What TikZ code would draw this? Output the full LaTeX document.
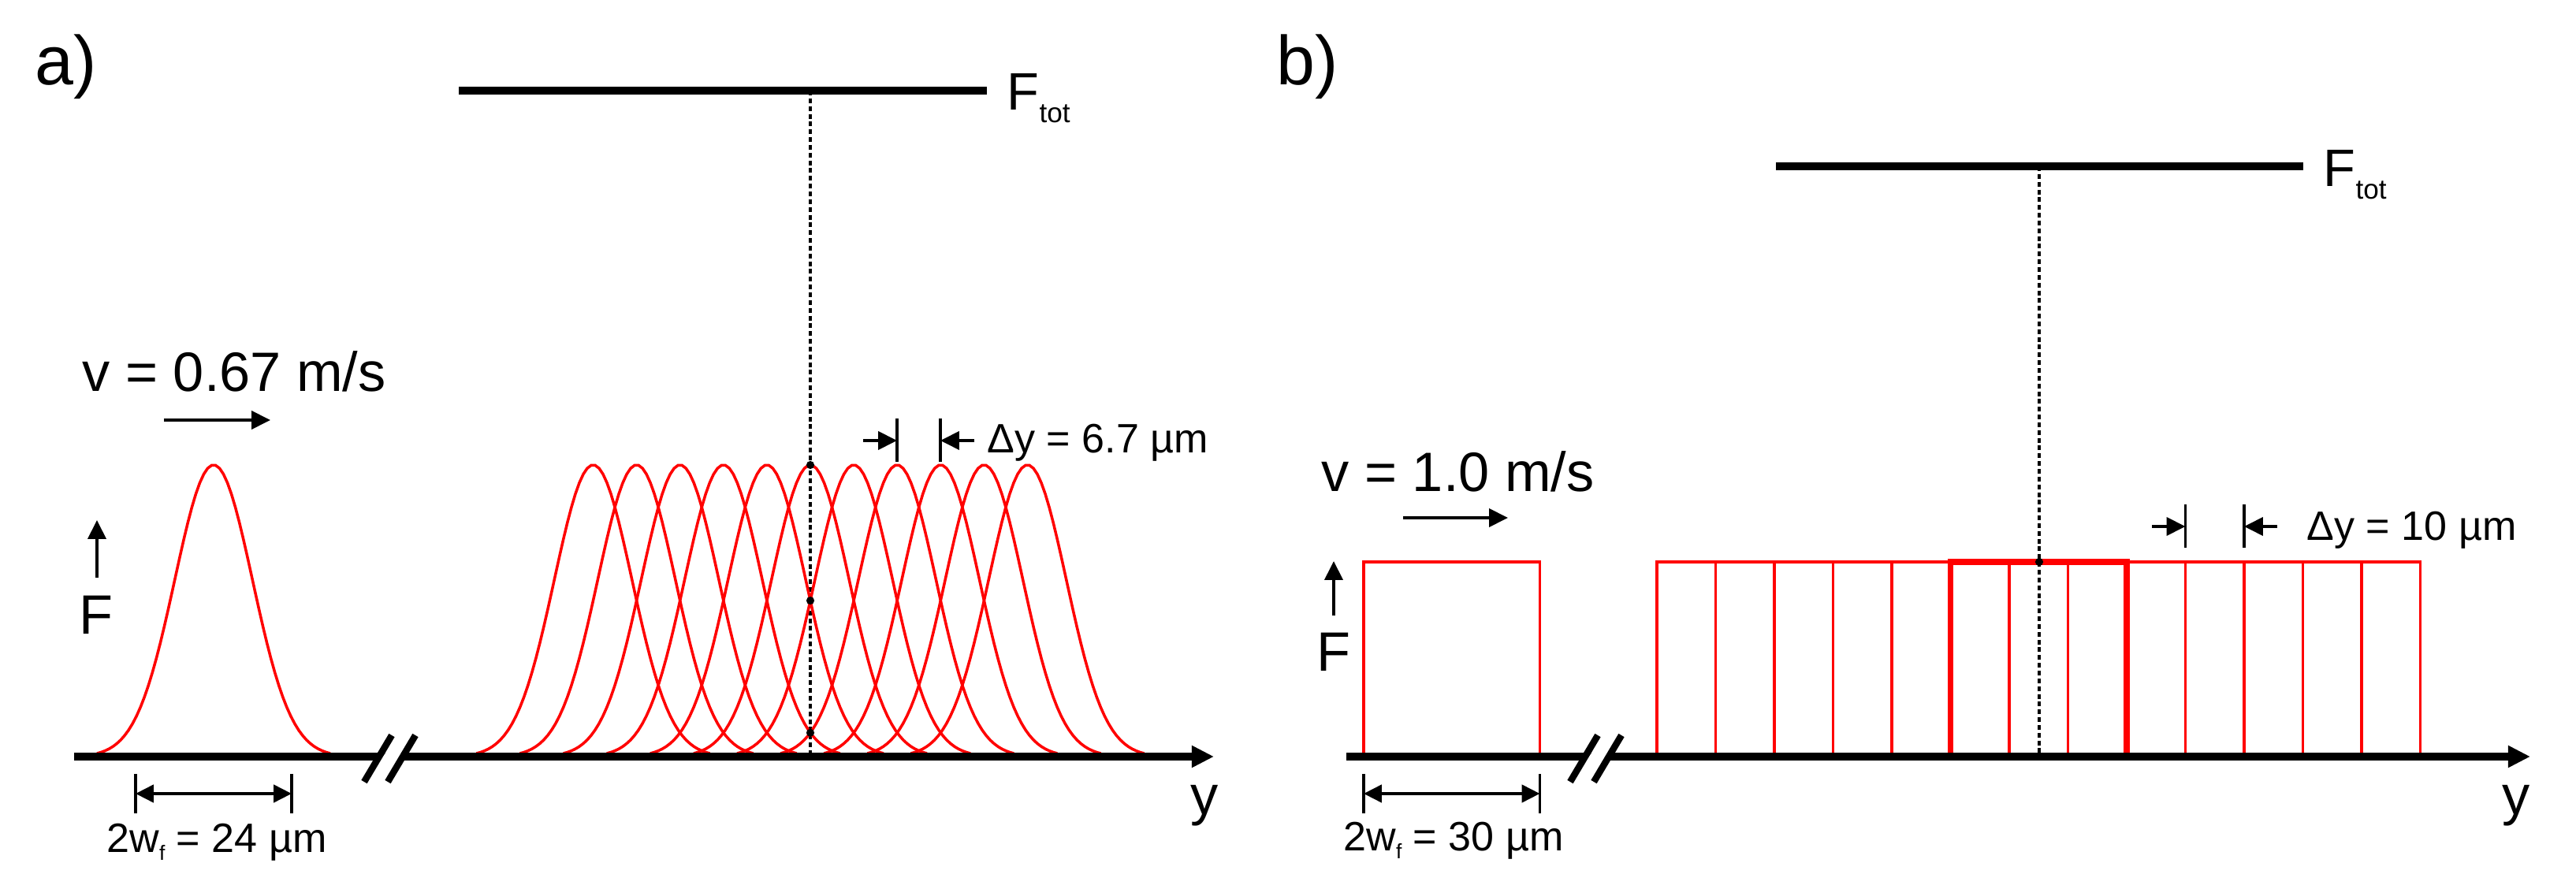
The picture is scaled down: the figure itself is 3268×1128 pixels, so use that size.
\documentclass[tikz,border=0pt]{standalone}
\usepackage{fontspec}
\setmainfont{Liberation Sans}
\usetikzlibrary{calc,arrows.meta,positioning}

\tikzset{
  gauss/.style={red,line width=1pt},
  redbox/.style={red,line width=0.9pt},
  axisline/.style={line width=2.6pt,-{Triangle[length=8pt,width=7.5pt]}},
  totline/.style={line width=2.9pt},
  guide/.style={line width=1.1pt,dash pattern=on 1.7pt off 1.1pt},
  breakmark/.style={line width=2.4pt},
  arr/.style={line width=1.2pt,-{Triangle[length=6.8pt,width=6.5pt]}},
  dim/.style={line width=1.1pt,{Triangle[length=6.5pt,width=6.3pt]}-{Triangle[length=6.5pt,width=6.3pt]}},
  dimtick/.style={line width=0.9pt},
  dot/.style={circle,fill,inner sep=0pt,minimum size=2.9pt},
  panel/.style={font=\fontsize{25}{30}\selectfont,inner sep=0pt},
  lab/.style={font=\fontsize{20}{24}\selectfont,inner sep=0pt},
  small/.style={font=\fontsize{14.8}{18}\selectfont,inner sep=0pt}
}

\begin{document}
\begin{tikzpicture}[x=0.01cm,y=-0.01cm]
\useasboundingbox (0,0) rectangle (3268,1128);

% a) gaussian spots
\node[panel,anchor=base west] (pa) at (44,108) {a)};
\draw[totline] (582,115) -- (1252,115);
\node[lab,font=\fontsize{19}{23}\selectfont,anchor=base west] (Fta) at (1277,140)
  {F\raisebox{-4.3pt}{\fontsize{10}{12}\selectfont tot}};
\draw[guide] (1028,115) -- (1028,960);
\draw[gauss] plot[domain=-148:148,samples=60] ({271+\x},{960-370*exp(-2*(\x/98.5)^2)});
\foreach \k in {0,...,10}
  \draw[gauss] plot[domain=-148:148,samples=60] ({752.5+55.1*\k+\x},{960-370*exp(-2*(\x/98.5)^2)});
\draw[axisline] (94,960) -- (1540,960);
\fill[white] (466,985) -- (488,985) -- (523,940) -- (501,940) -- cycle;
\draw[breakmark] (462,992) -- (497,933) (492,992) -- (527,933);
\node[dot] (da1) at (1028,590) {};
\node[dot] (da2) at (1028,{960-370*exp(-2*(55.1/98.5)^2)}) {};
\node[dot] (da3) at (1028,{960-370*exp(-2*(110.2/98.5)^2)}) {};
\node[lab,anchor=base west] (va) at (104,497) {v = 0.67 m/s};
\draw[arr] (208,533) -- (343,533);
\draw[arr] (123,733) -- (123,660);
\node[lab,anchor=base] (Fa) at (122,805) {F};
\draw[dimtick] (172,982) -- (172,1032) (370,982) -- (370,1032);
\draw[dim] (172,1007) -- (370,1007);
\node[small,anchor=base] (wa) at (275,1082)
  {2w\raisebox{-2.8pt}{\fontsize{7.5}{9}\selectfont f} = 24 µm};
\draw[dimtick] (1138,531) -- (1138,586) (1193,531) -- (1193,586);
\draw[arr] (1095,559) -- (1138,559);
\draw[arr] (1236,559) -- (1193,559);
\node[small,anchor=base west] (dya) at (1252,575) {Δy = 6.7 µm};
\node[lab] (ya) at (1528,1022) {y};

% b) top-hat spots
\node[panel,anchor=base east] (pb) at (1698,108) {b)};
\draw[totline] (2253,211) -- (2922,211);
\node[lab,font=\fontsize{19}{23}\selectfont,anchor=base west] (Ftb) at (2947,237)
  {F\raisebox{-4.3pt}{\fontsize{10}{12}\selectfont tot}};
\draw[guide] (2587,211) -- (2587,960);
\draw[redbox] (1730,960) rectangle (1953.5,713);
\foreach \k in {0,...,10}
  \draw[redbox] ({2102+74.5*\k},960) rectangle ({2325.5+74.5*\k},713);
\draw[red,line width=2.2pt] (2474.5,960) rectangle (2698,713);
\draw[axisline] (1708,960) -- (3210,960);
\fill[white] (1996,985) -- (2018,985) -- (2053,940) -- (2031,940) -- cycle;
\draw[breakmark] (1992,992) -- (2027,933) (2022,992) -- (2057,933);
\node[dot] (db1) at (2587,713) {};
\node[lab,anchor=base west] (vb) at (1676,624) {v = 1.0 m/s};
\draw[arr] (1780,657) -- (1913,657);
\draw[arr] (1692,781) -- (1692,712);
\node[lab,anchor=base] (Fb) at (1692,852) {F};
\draw[dimtick] (1730,982) -- (1730,1032) (1953.5,982) -- (1953.5,1032);
\draw[dim] (1730,1007) -- (1953.5,1007);
\node[small,anchor=base] (wb) at (1844,1080)
  {2w\raisebox{-2.8pt}{\fontsize{7.5}{9}\selectfont f} = 30 µm};
\draw[dimtick] (2772.5,640) -- (2772.5,695) (2847,640) -- (2847,695);
\draw[arr] (2730,668) -- (2772.5,668);
\draw[arr] (2889,668) -- (2847,668);
\node[small,anchor=base west] (dyb) at (2926,686) {Δy = 10 µm};
\node[lab] (yb) at (3192,1022) {y};
\end{tikzpicture}
\end{document}
